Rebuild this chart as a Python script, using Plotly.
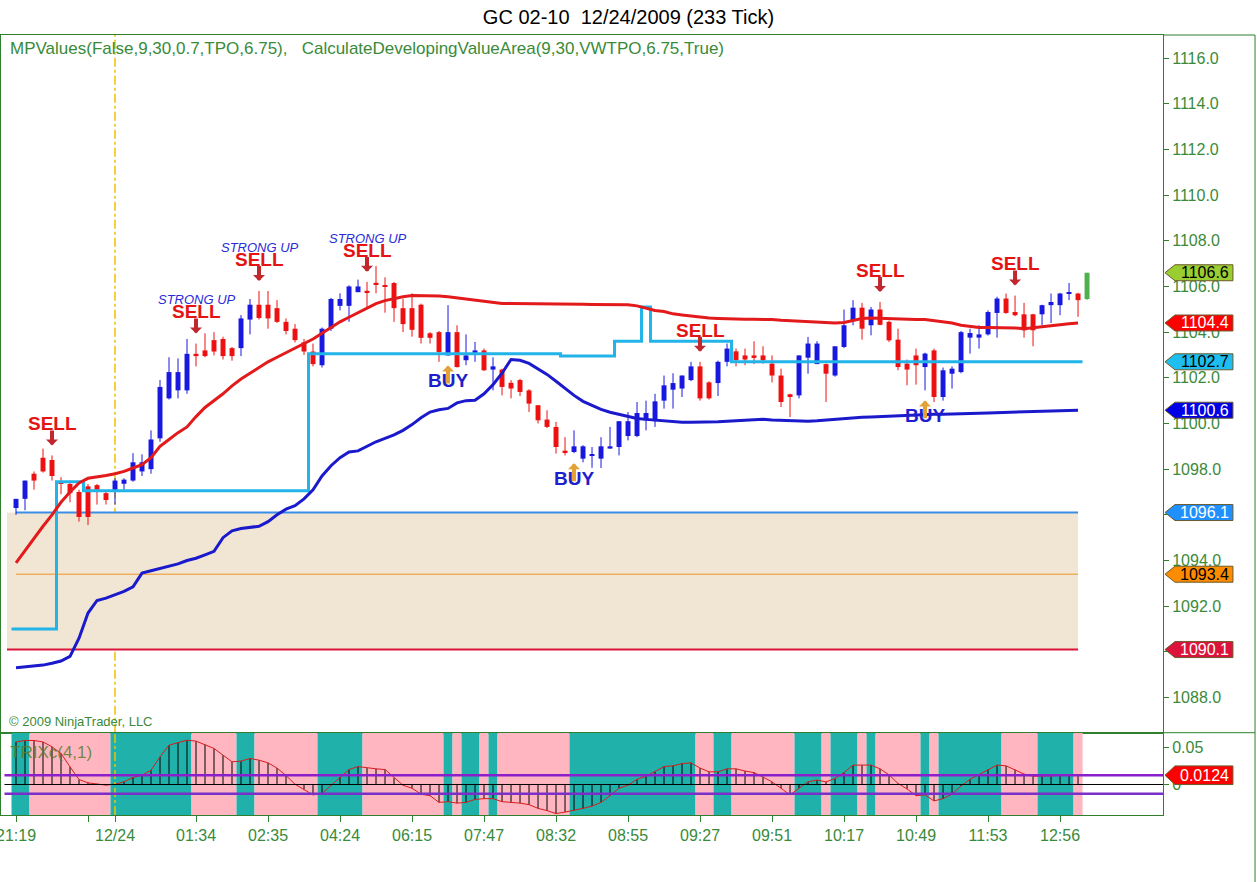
import plotly.graph_objects as go

# ---- 233 tick bars, x = bar number -------------------------------------
opens = [1096.3, 1096.7, 1097.8, 1098.5, 1098.4, 1097.45, 1097.35, 1097.0, 1097.25, 1097.3,
         1096.95, 1097.0, 1097.36, 1097.5, 1097.9, 1098.0, 1099.35, 1101.1, 1101.45, 1101.45,
         1103.05, 1103.2, 1103.65, 1103.7, 1103.3, 1103.3, 1104.55, 1105.2, 1105.2, 1105.05,
         1104.45, 1104.15, 1103.55, 1103.15, 1102.55, 1104.15, 1105.15, 1105.15, 1105.75, 1105.8,
         1106.15, 1106.05, 1106.15, 1105.05, 1105.05, 1105.2, 1103.95, 1104.0, 1102.98, 1104.0,
         1102.77, 1103.09, 1103.2, 1102.36, 1102.36, 1101.78, 1101.9, 1101.45, 1100.8, 1100.17,
         1099.85, 1098.78, 1098.75, 1098.46, 1098.6, 1098.46, 1098.9, 1098.97, 1099.45, 1099.45,
         1100.14, 1100.1, 1101.0, 1101.48, 1101.53, 1101.9, 1102.5, 1101.8, 1101.77, 1102.7,
         1103.16, 1102.98, 1102.98, 1102.98, 1102.62, 1102.1, 1101.28, 1101.23, 1102.88, 1102.6,
         1102.6, 1102.1, 1103.35, 1104.49, 1105.07, 1104.3, 1104.99, 1104.45, 1103.67, 1102.62,
         1102.98, 1102.47, 1103.2, 1101.16, 1102.18, 1102.25, 1103.76, 1103.76, 1103.9, 1104.84,
         1105.47, 1104.88, 1104.78, 1104.78, 1104.78, 1105.18, 1105.18, 1105.69, 1105.69, 1105.45]
highs = [1096.7, 1097.5, 1097.9, 1098.9, 1098.6, 1097.65, 1097.5, 1097.1, 1097.35, 1097.35,
         1097.05, 1097.6, 1097.6, 1098.7, 1098.65, 1099.7, 1101.9, 1102.9, 1102.85, 1103.7,
         1103.5, 1103.95, 1104.0, 1103.8, 1103.35, 1104.75, 1105.45, 1105.8, 1105.8, 1105.4,
         1104.6, 1104.35, 1103.7, 1103.5, 1104.2, 1105.5, 1105.7, 1106.05, 1106.3, 1106.2,
         1106.9, 1106.4, 1106.2, 1105.45, 1105.7, 1105.25, 1104.0, 1104.05, 1105.18, 1104.3,
         1103.9, 1103.57, 1103.28, 1102.9, 1102.4, 1101.9, 1101.95, 1101.5, 1100.8, 1100.58,
         1100.07, 1099.4, 1099.7, 1099.05, 1098.97, 1099.4, 1099.85, 1100.1, 1100.5, 1100.94,
         1101.0, 1101.3, 1102.1, 1102.2, 1102.1, 1102.7, 1102.7, 1101.85, 1102.75, 1103.5,
         1103.28, 1103.28, 1103.6, 1103.38, 1102.98, 1102.4, 1101.3, 1102.98, 1103.79, 1103.6,
         1102.62, 1103.38, 1104.99, 1105.4, 1105.28, 1105.1, 1105.32, 1104.5, 1104.15, 1102.8,
         1103.28, 1103.1, 1103.28, 1102.45, 1102.5, 1104.05, 1104.15, 1104.3, 1104.95, 1105.55,
         1105.69, 1105.6, 1105.28, 1104.8, 1105.2, 1105.69, 1105.72, 1106.15, 1105.72, 1106.6]
lows = [1096.0, 1096.2, 1097.1, 1097.85, 1097.5, 1096.9, 1096.55, 1095.7, 1095.55, 1096.45,
        1096.45, 1096.45, 1097.1, 1097.45, 1097.7, 1097.8, 1099.2, 1101.05, 1101.1, 1101.3,
        1102.5, 1102.9, 1102.98, 1102.8, 1102.75, 1102.95, 1103.9, 1104.55, 1104.15, 1104.4,
        1103.9, 1103.55, 1103.0, 1102.5, 1102.45, 1104.05, 1104.95, 1104.45, 1105.75, 1105.05,
        1105.7, 1104.85, 1104.45, 1104.0, 1103.8, 1103.5, 1103.5, 1102.7, 1102.98, 1102.45,
        1102.55, 1102.7, 1102.3, 1101.45, 1101.23, 1101.1, 1101.2, 1100.5, 1100.0, 1099.8,
        1098.68, 1098.6, 1098.7, 1098.3, 1098.06, 1098.05, 1098.9, 1098.6, 1099.26, 1099.4,
        1099.7, 1099.85, 1100.65, 1100.65, 1101.16, 1101.85, 1101.0, 1101.05, 1101.2, 1102.5,
        1102.5, 1102.55, 1102.6, 1102.62, 1101.8, 1100.72, 1100.28, 1101.1, 1102.18, 1102.6,
        1100.94, 1102.05, 1103.3, 1104.3, 1103.67, 1103.86, 1104.3, 1103.57, 1102.33, 1101.67,
        1101.7, 1101.45, 1100.94, 1101.0, 1101.53, 1102.2, 1103.06, 1103.28, 1103.85, 1103.76,
        1104.8, 1104.7, 1103.76, 1103.38, 1104.3, 1104.4, 1104.74, 1105.4, 1104.67, 1105.4]
closes = [1096.7, 1097.5, 1097.5, 1097.9, 1097.7, 1097.35, 1096.95, 1095.9, 1095.9, 1097.1,
          1096.65, 1097.5, 1097.54, 1098.3, 1098.3, 1099.3, 1101.6, 1102.25, 1102.25, 1103.05,
          1102.95, 1102.95, 1103.15, 1102.95, 1102.95, 1104.6, 1105.2, 1104.62, 1104.6, 1104.45,
          1104.05, 1103.65, 1103.15, 1102.6, 1104.15, 1105.45, 1105.45, 1106.0, 1106.0, 1105.75,
          1106.1, 1106.0, 1105.05, 1104.35, 1104.1, 1103.75, 1103.75, 1103.13, 1104.0, 1102.47,
          1102.98, 1103.2, 1102.33, 1102.5, 1101.6, 1101.53, 1101.38, 1100.87, 1100.14, 1099.85,
          1098.97, 1098.75, 1099.0, 1099.0, 1098.65, 1099.0, 1099.0, 1100.1, 1100.1, 1100.46,
          1100.46, 1100.97, 1101.67, 1101.77, 1102.1, 1102.5, 1101.1, 1101.1, 1102.7, 1103.28,
          1102.77, 1102.8, 1102.87, 1102.77, 1102.1, 1100.94, 1101.2, 1102.98, 1103.5, 1103.5,
          1102.18, 1103.38, 1104.3, 1105.07, 1104.15, 1104.99, 1104.32, 1103.64, 1102.47, 1102.36,
          1102.55, 1103.06, 1101.16, 1102.33, 1102.4, 1104.0, 1103.96, 1103.9, 1104.88, 1105.47,
          1104.84, 1104.74, 1104.08, 1104.08, 1105.18, 1105.32, 1105.69, 1105.72, 1105.4, 1106.6]

# ---- indicator lines (completed bars 0..118) ----------------------------
vwap_line = [1093.9, 1094.45, 1095.0, 1095.5, 1096.0, 1096.55, 1097.0, 1097.4, 1097.6, 1097.65,
             1097.72, 1097.8, 1097.9, 1098.05, 1098.2, 1098.5, 1099.0, 1099.3, 1099.6, 1099.85,
             1100.3, 1100.7, 1101.0, 1101.3, 1101.65, 1101.95, 1102.2, 1102.45, 1102.7, 1102.9,
             1103.1, 1103.3, 1103.5, 1103.7, 1103.95, 1104.2, 1104.45, 1104.65, 1104.85, 1105.05,
             1105.25, 1105.38, 1105.48, 1105.55, 1105.6, 1105.6, 1105.6, 1105.58, 1105.55, 1105.5,
             1105.45, 1105.4, 1105.32, 1105.27, 1105.25, 1105.25, 1105.25, 1105.25, 1105.25, 1105.25,
             1105.25, 1105.24, 1105.23, 1105.22, 1105.21, 1105.2, 1105.2, 1105.2, 1105.2, 1105.15,
             1105.05, 1104.95, 1104.9, 1104.8, 1104.75, 1104.7, 1104.65, 1104.62, 1104.6, 1104.58,
             1104.57, 1104.56, 1104.56, 1104.56, 1104.55, 1104.52, 1104.5, 1104.48, 1104.45, 1104.43,
             1104.42, 1104.4, 1104.42, 1104.5, 1104.6, 1104.62, 1104.6, 1104.58, 1104.56, 1104.55,
             1104.55, 1104.55, 1104.5, 1104.45, 1104.4, 1104.3, 1104.25, 1104.2, 1104.2, 1104.2,
             1104.2, 1104.18, 1104.15, 1104.2, 1104.25, 1104.3, 1104.33, 1104.37, 1104.4]
vwtpo_line = [1089.3, 1089.33, 1089.37, 1089.42, 1089.5, 1089.6, 1089.8, 1090.6, 1091.7, 1092.25,
              1092.35, 1092.5, 1092.65, 1092.85, 1093.45, 1093.55, 1093.65, 1093.75, 1093.85, 1094.0,
              1094.1, 1094.25, 1094.4, 1095.0, 1095.3, 1095.4, 1095.45, 1095.5, 1095.7, 1096.0,
              1096.25, 1096.4, 1096.7, 1097.1, 1097.7, 1098.15, 1098.5, 1098.75, 1098.8, 1099.0,
              1099.2, 1099.35, 1099.5, 1099.7, 1099.95, 1100.25, 1100.5, 1100.6, 1100.66, 1100.9,
              1101.0, 1101.02, 1101.3, 1101.7, 1102.2, 1102.8, 1102.77, 1102.63, 1102.4, 1102.15,
              1101.85, 1101.54, 1101.23, 1100.97, 1100.8, 1100.62, 1100.49, 1100.4, 1100.31, 1100.22,
              1100.18, 1100.14, 1100.1, 1100.08, 1100.05, 1100.05, 1100.05, 1100.06, 1100.08, 1100.1,
              1100.12, 1100.15, 1100.18, 1100.18, 1100.15, 1100.14, 1100.12, 1100.1, 1100.1, 1100.12,
              1100.15, 1100.2, 1100.22, 1100.25, 1100.27, 1100.28, 1100.3, 1100.3, 1100.32, 1100.35,
              1100.38, 1100.38, 1100.4, 1100.4, 1100.42, 1100.43, 1100.44, 1100.45, 1100.46, 1100.47,
              1100.48, 1100.5, 1100.5, 1100.52, 1100.53, 1100.55, 1100.56, 1100.57, 1100.58]
dev_poc = [1091.0, 1091.0, 1091.0, 1091.0, 1091.0, 1097.45, 1097.45, 1097.45, 1097.05, 1097.05,
           1097.05, 1097.05, 1097.05, 1097.05, 1097.05, 1097.05, 1097.05, 1097.05, 1097.05, 1097.05,
           1097.05, 1097.05, 1097.05, 1097.05, 1097.05, 1097.05, 1097.05, 1097.05, 1097.05, 1097.05,
           1097.05, 1097.05, 1097.05, 1103.05, 1103.05, 1103.05, 1103.05, 1103.05, 1103.05, 1103.05,
           1103.05, 1103.05, 1103.05, 1103.05, 1103.05, 1103.05, 1103.05, 1103.05, 1103.05, 1103.05,
           1103.05, 1103.05, 1103.05, 1103.05, 1103.05, 1103.05, 1103.05, 1103.05, 1103.05, 1103.05,
           1103.05, 1102.95, 1102.95, 1102.95, 1102.95, 1102.95, 1102.95, 1103.6, 1103.6, 1103.6,
           1105.1, 1103.6, 1103.6, 1103.6, 1103.6, 1103.6, 1103.6, 1103.6, 1103.6, 1103.6,
           1102.7, 1102.7, 1102.7, 1102.7, 1102.7, 1102.7, 1102.7, 1102.7, 1102.7, 1102.7,
           1102.7, 1102.7, 1102.7, 1102.7, 1102.7, 1102.7, 1102.7, 1102.7, 1102.7, 1102.7,
           1102.7, 1102.7, 1102.7, 1102.7, 1102.7, 1102.7, 1102.7, 1102.7, 1102.7, 1102.7,
           1102.7, 1102.7, 1102.7, 1102.7, 1102.7, 1102.7, 1102.7, 1102.7, 1102.7]
va_high = 1096.1
va_poc = 1093.4
va_low = 1090.1

trix = [0.057, 0.059, 0.059, 0.057, 0.0505, 0.0416, 0.0237, 0.0067, 0.0022, 0.0009,
        -0.0009, 0.0004, 0.0036, 0.0094, 0.0125, 0.0192, 0.0371, 0.0527, 0.0559, 0.0594,
        0.0581, 0.0536, 0.0483, 0.0393, 0.0304, 0.0313, 0.0349, 0.0326, 0.029, 0.022,
        0.012, 0.0004, -0.0067, -0.014, -0.012, -0.001, 0.010, 0.020, 0.024, 0.022,
        0.021, 0.020, 0.009, -0.001, -0.005, -0.013, -0.015, -0.024, -0.023, -0.025,
        -0.024, -0.020, -0.019, -0.019, -0.023, -0.024, -0.025, -0.027, -0.032, -0.035,
        -0.039, -0.037, -0.035, -0.032, -0.029, -0.024, -0.015, -0.005, -0.001, 0.007,
        0.011, 0.017, 0.024, 0.025, 0.028, 0.029, 0.022, 0.017, 0.017, 0.021,
        0.021, 0.018, 0.016, 0.010, 0.0035, -0.005, -0.014, -0.005, 0.0035, 0.006,
        0.0035, 0.008, 0.016, 0.026, 0.026, 0.026, 0.021, 0.013, 0.0013, -0.006,
        -0.015, -0.014, -0.022, -0.019, -0.013, -0.002, 0.007, 0.013, 0.020, 0.026,
        0.025, 0.020, 0.014, 0.011, 0.011, 0.011, 0.012, 0.0124, 0.0124]
trix_level = 0.0125

tick_bars = [0, 8, 11, 20, 28, 36, 44, 52, 60, 68, 76, 84, 92, 100, 108, 116]
tick_labels = ["21:19", "", "12/24", "01:34", "02:35", "04:24", "06:15", "07:47",
               "08:32", "08:55", "09:27", "09:51", "10:17", "10:49", "11:53", "12:56"]
session_bar = 11
sell_bars = [4, 20, 27, 39, 76, 96, 111]
strong_up_bars = [20, 27, 39]
buy_bars = [48, 62, 101]

GREEN = "#3A8A3A"
FONT = "Liberation Sans, Arial, sans-serif"
UP, DOWN, LIVE = "#1818E0", "#EE1111", "#50B050"
TEAL, PINK = "#20B2AA", "#FFB6C1"

n = len(closes)
done = len(trix)
bars = list(range(n))
candle_col = [UP if c >= o else DOWN for o, c in zip(opens, closes)]
candle_col[-1] = LIVE

fig = go.Figure()

# candles: wicks first
for col in (UP, DOWN, LIVE):
    wx, wy = [], []
    for i in bars:
        if candle_col[i] == col:
            wx += [i, i, None]
            wy += [lows[i], highs[i], None]
    fig.add_trace(go.Scatter(x=wx, y=wy, mode="lines", line=dict(color=col, width=1),
                             hoverinfo="skip", showlegend=False))

# indicator lines
fig.add_trace(go.Scatter(x=[i - 0.5 for i in range(done)] + [done - 0.5], y=dev_poc + [dev_poc[-1]],
                         mode="lines", line=dict(color="#22B4E8", width=3, shape="hv"),
                         hoverinfo="skip", showlegend=False))
fig.add_trace(go.Scatter(x=list(range(done)), y=vwtpo_line, mode="lines",
                         line=dict(color="#1A1ACC", width=3), hoverinfo="skip", showlegend=False))
fig.add_trace(go.Scatter(x=list(range(done)), y=vwap_line, mode="lines",
                         line=dict(color="#E31A1C", width=3), hoverinfo="skip", showlegend=False))

# candle bodies
fig.add_trace(go.Bar(x=bars, y=[max(abs(c - o), 0.06) for o, c in zip(opens, closes)],
                     base=[min(o, c) for o, c in zip(opens, closes)], width=0.55,
                     marker=dict(color=candle_col, line=dict(width=0)),
                     hoverinfo="skip", showlegend=False))

# ---- TRIX panel ----------------------------------------------------------
y2_lo, y2_hi = -0.0409, 0.0694
band_col = [TEAL if c >= o else PINK for o, c in zip(opens[:done], closes[:done])]
# merge runs of equal colour so the background has no seams
run_x, run_w, run_c = [], [], []
start = 0
for i in range(1, done + 1):
    if i == done or band_col[i] != band_col[start]:
        run_x.append((start + i - 1) / 2)
        run_w.append(i - start)
        run_c.append(band_col[start])
        start = i
fig.add_trace(go.Bar(x=run_x, y=[y2_hi - y2_lo] * len(run_x), base=y2_lo, width=run_w,
                     marker=dict(color=run_c, line=dict(width=0)),
                     xaxis="x2", yaxis="y2", hoverinfo="skip", showlegend=False))
sx, sy = [], []
for i, v in enumerate(trix):
    sx += [i, i, None]
    sy += [0, v, None]
fig.add_trace(go.Scatter(x=sx, y=sy, mode="lines", line=dict(color="black", width=1),
                         xaxis="x2", yaxis="y2", hoverinfo="skip", showlegend=False))
fig.add_trace(go.Scatter(x=list(range(done)), y=trix, mode="lines", line=dict(color="#D81B1B", width=1),
                         xaxis="x2", yaxis="y2", hoverinfo="skip", showlegend=False))

shapes = [
    dict(type="rect", xref="x", yref="y", x0=-1, x1=done - 1, y0=va_low, y1=va_high,
         fillcolor="#F0E6D3", line=dict(width=0), layer="below"),
    dict(type="line", xref="x", yref="y", x0=0, x1=done - 1, y0=va_high, y1=va_high,
         line=dict(color="#3A8EE6", width=2), layer="below"),
    dict(type="line", xref="x", yref="y", x0=0, x1=done - 1, y0=va_poc, y1=va_poc,
         line=dict(color="#F0932B", width=1), layer="below"),
    dict(type="line", xref="x", yref="y", x0=-1, x1=done - 1, y0=va_low, y1=va_low,
         line=dict(color="#DC143C", width=2), layer="below"),
    dict(type="line", xref="x", yref="y domain", x0=session_bar, x1=session_bar, y0=0, y1=1,
         line=dict(color="#F5C000", width=1.5, dash="dashdot"), layer="below"),
    dict(type="line", xref="x2", yref="y2 domain", x0=session_bar, x1=session_bar, y0=0, y1=1,
         line=dict(color="#F5C000", width=1.5, dash="dashdot"), layer="above"),
    dict(type="line", xref="paper", yref="y2", x0=0.003, x1=1, y0=0, y1=0,
         line=dict(color="black", width=1), layer="above"),
    dict(type="line", xref="paper", yref="y2", x0=0.003, x1=1, y0=trix_level, y1=trix_level,
         line=dict(color="#8B1FCC", width=2.5), layer="above"),
    dict(type="line", xref="paper", yref="y2", x0=0.003, x1=1, y0=-trix_level, y1=-trix_level,
         line=dict(color="#7A2FC8", width=2.5), layer="above"),
    # outer frame of the price scale
    dict(type="line", xref="paper", yref="paper", x0=1.0792, x1=1.0792, y0=-0.086, y1=1,
         line=dict(color="#2F7F2F", width=1)),
    dict(type="line", xref="paper", yref="paper", x0=1, x1=1.0792, y0=1, y1=1,
         line=dict(color="#2F7F2F", width=1)),
    dict(type="line", xref="paper", yref="paper", x0=1, x1=1.0792, y0=0.1055, y1=0.1055,
         line=dict(color="#2F7F2F", width=1)),
]

annotations = [
    dict(xref="paper", yref="paper", x=0.006, y=0.9833, xanchor="left", yanchor="middle",
         showarrow=False, font=dict(family=FONT, size=17, color=GREEN),
         text="MPValues(False,9,30,0.7,TPO,6.75),\u00a0\u00a0\u00a0CalculateDevelopingValueArea(9,30,VWTPO,6.75,True)"),
    dict(xref="paper", yref="paper", x=0.005, y=0.1196, xanchor="left", yanchor="middle",
         showarrow=False, font=dict(family=FONT, size=13, color=GREEN), text="\u00a9 2009 NinjaTrader, LLC"),
    dict(xref="paper", yref="paper", x=0.006, y=0.0799, xanchor="left", yanchor="middle",
         showarrow=False, font=dict(family=FONT, size=17, color="rgba(88,125,45,0.85)"), text="TRIXc(4,1)"),
]

# signals
for b in sell_bars:
    tip = highs[b] + 0.44
    annotations.append(dict(xref="x", yref="y", x=b, y=tip + 0.95, text="<b>SELL</b>", showarrow=False,
                            font=dict(family=FONT, size=19, color="#E51414"), yanchor="middle"))
    annotations.append(dict(xref="x", yref="y", axref="x", ayref="y", x=b, y=tip, ax=b, ay=tip + 0.72,
                            text="", showarrow=True, arrowhead=1, arrowsize=0.5, arrowwidth=4,
                            arrowcolor="#C0282D", standoff=0))
for b in strong_up_bars:
    tip = highs[b] + 0.44
    annotations.append(dict(xref="x", yref="y", x=b + 0.1, y=tip + 1.48, text="<i>STRONG UP</i>",
                            showarrow=False, font=dict(family=FONT, size=13, color="#2B2BD8"),
                            yanchor="middle"))
for b in buy_bars:
    tip = lows[b] - 0.44
    annotations.append(dict(xref="x", yref="y", x=b, y=tip - 0.65, text="<b>BUY</b>", showarrow=False,
                            font=dict(family=FONT, size=19, color="#1E1ECC"), yanchor="middle"))
    annotations.append(dict(xref="x", yref="y", axref="x", ayref="y", x=b, y=tip, ax=b, ay=tip - 0.85,
                            text="", showarrow=True, arrowhead=1, arrowsize=0.5, arrowwidth=4,
                            arrowcolor="#E3A136", standoff=0))

# price tags on the right scale
def price_tag(value, yref, half, fill, text_color, label):
    tip, shoulder, end = 1.0017, 1.0103, 1.0602
    shapes.append(dict(type="path", xref="paper", yref=yref, layer="above",
                       path=f"M {tip},{value} L {shoulder},{value + half} L {end},{value + half} "
                            f"L {end},{value - half} L {shoulder},{value - half} Z",
                       fillcolor=fill, line=dict(color="#6B5A2A", width=1)))
    annotations.append(dict(xref="paper", yref=yref, x=1.0358, y=value, text=label, showarrow=False,
                            xanchor="center", yanchor="middle",
                            font=dict(family=FONT, size=16, color=text_color)))

price_tag(closes[-1], "y", 0.35, "#9ACD32", "black", f"{closes[-1]:.1f}")
price_tag(vwap_line[-1], "y", 0.35, "#FF0000", "white", f"{vwap_line[-1]:.1f}")
price_tag(dev_poc[-1], "y", 0.35, "#1EBFF0", "black", f"{dev_poc[-1]:.1f}")
price_tag(vwtpo_line[-1], "y", 0.35, "#0000E6", "white", f"{vwtpo_line[-1]:.1f}")
price_tag(va_high, "y", 0.35, "#1E90FF", "white", f"{va_high:.1f}")
price_tag(va_poc, "y", 0.35, "#FF8C00", "black", f"{va_poc:.1f}")
price_tag(va_low, "y", 0.35, "#DC143C", "white", f"{va_low:.1f}")
price_tag(trix[-1], "y2", 0.0125, "#FF0000", "white", f"{trix[-1]:.4f}")

axis_common = dict(showline=True, mirror=True, linecolor="#2F7F2F", linewidth=1,
                   showgrid=False, zeroline=False, tickcolor="#2F7F2F", automargin=False,
                   tickfont=dict(family=FONT, size=16, color=GREEN))
x_range = [-1.667, 127.44]

fig.update_layout(
    width=1257, height=882,
    margin=dict(l=1, r=94, t=35, b=67),
    paper_bgcolor="white", plot_bgcolor="white",
    barmode="overlay", showlegend=False,
    title=dict(text="GC 02-10\u00a0\u00a012/24/2009 (233 Tick)", x=0.5, xanchor="center",
               y=1 - 17 / 882, yanchor="middle", font=dict(family=FONT, size=20, color="black")),
    xaxis=dict(domain=[0, 1], anchor="y", range=x_range, showticklabels=False, ticks="", **axis_common),
    yaxis=dict(domain=[0.1055, 1], anchor="x", side="right", range=[1086.46, 1117.01],
               tickmode="linear", tick0=1088, dtick=2, tickformat=".1f",
               ticks="outside", ticklen=5, **axis_common),
    xaxis2=dict(domain=[0, 1], anchor="y2", range=x_range, tickmode="array",
                tickvals=tick_bars, ticktext=tick_labels, ticks="outside", ticklen=6,
                ticklabeloverflow="allow", **axis_common),
    yaxis2=dict(domain=[0, 0.1055], anchor="x2", side="right", range=[y2_lo, y2_hi],
                tickmode="array", tickvals=[0, 0.05], ticktext=["0", "0.05"],
                ticks="outside", ticklen=5, **axis_common),
    shapes=shapes,
    annotations=annotations,
)

# page has no body margin so the figure sits at the window origin
fig.write_html("out.html", config={"displayModeBar": False},
               post_script="document.body.style.margin='0px';")
